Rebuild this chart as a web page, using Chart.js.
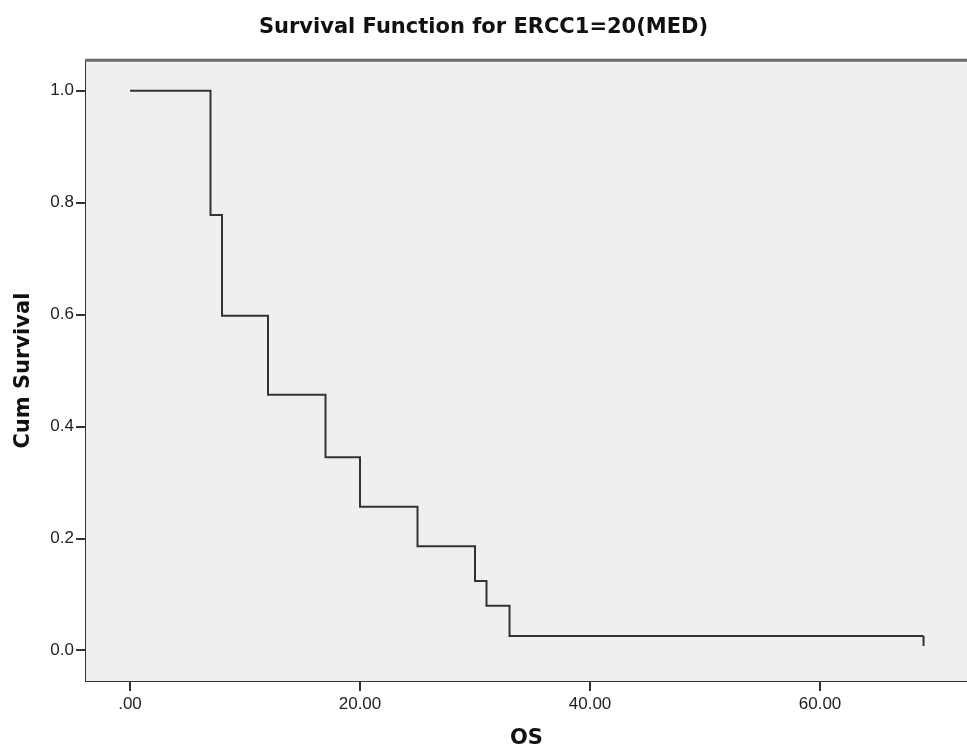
<!DOCTYPE html>
<html>
<head>
<meta charset="utf-8">
<script src="https://cdn.jsdelivr.net/npm/chart.js@4.4.1/dist/chart.umd.min.js"></script>
<style>
  html, body { margin: 0; padding: 0; background: #fff; }
  #wrap { width: 967px; height: 751px; }
</style>
</head>
<body>
<div id="wrap"><canvas id="chart"></canvas></div>
<script>
// event times (OS) and survival estimates
const times = [0, 7, 8, 12, 17, 20, 25, 30, 31, 33, 69];
const survival = [1.0, 0.778, 0.598, 0.457, 0.345, 0.257, 0.186, 0.124, 0.080, 0.026, 0.026];
// censored case at the end of follow-up
const censorTime = [69];
const censorSurvival = [0.026];
const xTicks = [0, 20, 40, 60];
const yTicks = [0.0, 0.2, 0.4, 0.6, 0.8, 1.0];

document.addEventListener('DOMContentLoaded', () => {
    const ctx = document.getElementById('chart').getContext('2d');

    const curve = times.map((t, i) => ({ x: t, y: survival[i] }));
    const censorMark = [
        { x: censorTime[0], y: censorSurvival[0] },
        { x: censorTime[0], y: censorSurvival[0] - 0.018 }
    ];

    const plotFrame = {
        id: 'plotFrame',
        beforeDatasetsDraw(chart) {
            const { ctx, chartArea: a } = chart;
            ctx.save();
            ctx.fillStyle = '#efefef';
            ctx.fillRect(a.left, a.top, a.right - a.left, a.bottom - a.top);
            ctx.restore();
        },
        afterDraw(chart) {
            const { ctx, chartArea: a } = chart;
            ctx.save();
            ctx.strokeStyle = '#6a6a6a';
            ctx.lineWidth = 3;
            ctx.beginPath();
            ctx.moveTo(a.left - 1, a.top);
            ctx.lineTo(a.right, a.top);
            ctx.stroke();
            ctx.restore();
        }
    };

    const tickFont = { family: 'Liberation Sans, Arial, sans-serif', size: 17 };
    const labelFont = { family: 'DejaVu Sans, sans-serif', size: 21, weight: 'bold' };

    const config = {
        type: 'line',
        data: {
            datasets: [{
                data: curve,
                stepped: 'before',
                borderColor: '#333',
                borderWidth: 2,
                pointRadius: 0,
                fill: false
            }, {
                data: censorMark,
                borderColor: '#333',
                borderWidth: 2,
                pointRadius: 0,
                fill: false
            }]
        },
        options: {
            responsive: true,
            maintainAspectRatio: false,
            animation: false,
            layout: { padding: 0 },
            scales: {
                x: {
                    type: 'linear',
                    min: -3.826,
                    max: 72.78,
                    afterBuildTicks: (scale) => { scale.ticks = xTicks.map(v => ({ value: v })); },
                    afterFit: (scale) => { scale.height = 70; },
                    grid: { drawOnChartArea: false, drawTicks: true, tickLength: 10, color: '#333', lineWidth: 2 },
                    border: { display: true, color: '#333', width: 2 },
                    ticks: {
                        color: '#222',
                        font: tickFont,
                        padding: 3,
                        maxRotation: 0,
                        callback: (v) => v === 0 ? '.00' : v.toFixed(2)
                    },
                    title: {
                        display: true,
                        text: 'OS',
                        color: '#111',
                        font: labelFont,
                        padding: { top: 0, bottom: 0 }
                    }
                },
                y: {
                    min: -0.0545,
                    max: 1.0545,
                    afterBuildTicks: (scale) => { scale.ticks = yTicks.map(v => ({ value: v })); },
                    afterFit: (scale) => { scale.width = 86; },
                    grid: { drawOnChartArea: false, drawTicks: true, tickLength: 10, color: '#333', lineWidth: 2 },
                    border: { display: true, color: '#333', width: 2 },
                    ticks: {
                        color: '#222',
                        font: tickFont,
                        padding: 2,
                        callback: (v) => v.toFixed(1)
                    },
                    title: {
                        display: true,
                        text: 'Cum Survival',
                        color: '#111',
                        font: labelFont,
                        padding: { top: 11, bottom: 0 }
                    }
                }
            },
            plugins: {
                legend: { display: false },
                tooltip: { enabled: false },
                title: {
                    display: true,
                    text: 'Survival Function for ERCC1=20(MED)',
                    color: '#111',
                    font: labelFont,
                    padding: { top: 15, bottom: 20 }
                }
            }
        },
        plugins: [plotFrame]
    };

    const chart = new Chart(ctx, config);
});
</script>
</body>
</html>
